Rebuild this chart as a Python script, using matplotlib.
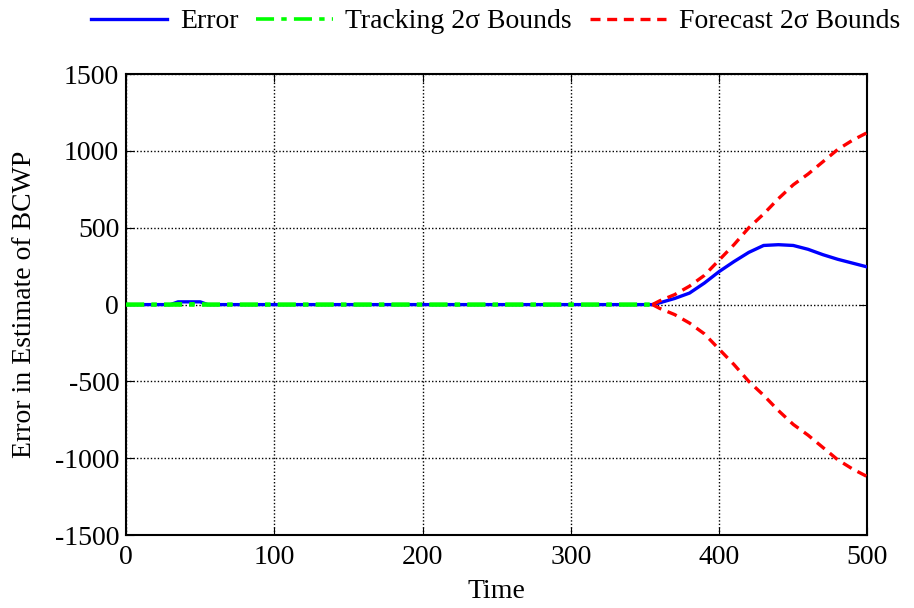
import matplotlib
matplotlib.use("Agg")
import matplotlib.pyplot as plt

plt.rcParams["font.family"] = ["Liberation Serif", "DejaVu Serif"]
plt.rcParams["axes.unicode_minus"] = False

# dados
t_track = [0, 30, 35, 50, 55, 100, 200, 300, 355]
err_track = [0, 0, 18, 18, 0, 0, 0, 0, 0]
trk_up = [3, 3, 5, 5, 3, 3, 3, 3, 3]
trk_lo = [-3, -3, -3, -3, -3, -3, -3, -3, -3]

t_fc = [355, 360, 370, 380, 390, 400, 410, 420, 430, 440, 450, 460, 470, 480, 490, 500]
err_fc = [0, 12, 40, 75, 140, 215, 280, 340, 385, 390, 385, 360, 325, 295, 270, 245]
fc_up = [0, 25, 65, 120, 190, 290, 390, 500, 590, 690, 780, 850, 930, 1010, 1070, 1120]
fc_lo = [-v for v in fc_up]

fig = plt.figure(figsize=(9.14, 6.08), dpi=100)
ax = fig.add_axes([0.138, 0.120, 0.811, 0.758])

ax.plot(t_track + t_fc[1:], err_track + err_fc[1:], color="blue", lw=2.4,
        label="Error", zorder=3)
ax.plot(t_track, trk_up, color="#00ff00", lw=2.6, ls="-.", dashes=(5, 2, 1.5, 2),
        label="Tracking 2σ Bounds", zorder=4)
ax.plot(t_track, trk_lo, color="#00ff00", lw=2.6, ls="-.", dashes=(5, 2, 1.5, 2),
        zorder=4)
ax.plot(t_fc, fc_up, color="red", lw=2.4, ls="--", dashes=(3, 2),
        label="Forecast 2σ Bounds", zorder=5)
ax.plot(t_fc, fc_lo, color="red", lw=2.4, ls="--", dashes=(3, 2), zorder=5)

ax.set_xlim(0, 500)
ax.set_ylim(-1500, 1500)
ax.set_xticks([0, 100, 200, 300, 400, 500])
ax.set_yticks([-1500, -1000, -500, 0, 500, 1000, 1500])
ax.grid(True, color="black", ls=(0, (1, 1.5)), lw=1.0)
ax.tick_params(direction="in", top=True, right=True, labelsize=20, length=6)
ax.tick_params(axis="x", pad=7)
ax.tick_params(axis="y", pad=5)
for s in ax.spines.values():
    s.set_linewidth(1.5)

ax.set_xlabel("Time", fontsize=20, labelpad=7)
ax.set_ylabel("Error in Estimate of BCWP", fontsize=20, labelpad=13)

fig.legend(loc="upper right", bbox_to_anchor=(1.0, 1.008), ncol=3, frameon=False,
           fontsize=20, handlelength=2.75, handletextpad=0.45, columnspacing=0.65,
           borderaxespad=0.1)

fig.savefig("out.png", dpi=100)
